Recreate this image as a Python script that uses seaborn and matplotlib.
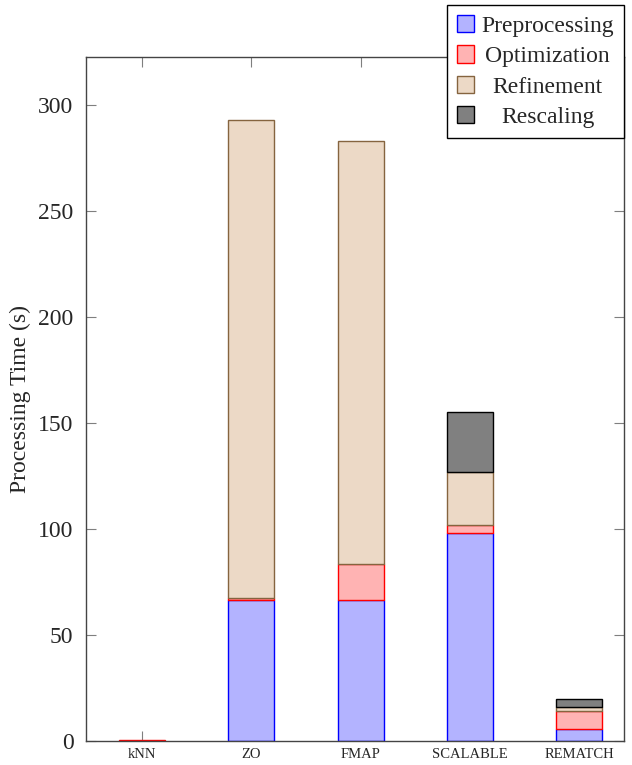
import matplotlib
matplotlib.use("Agg")
import matplotlib.pyplot as plt
import seaborn as sns
import numpy as np
import pandas as pd
from matplotlib.patches import Patch

methods = ["kNN", "ZO", "FMAP", "SCALABLE", "REMATCH"]
preprocessing = [0.2, 66.5, 66.5, 98.0, 5.6]
optimization = [0.3, 0.8, 17.0, 4.0, 8.5]
refinement = [0.0, 225.7, 199.5, 25.0, 1.9]
rescaling = [0.0, 0.0, 0.0, 28.0, 3.8]

series_names = ["Preprocessing", "Optimization", "Refinement", "Rescaling"]
fills = ["#b3b3ff", "#ffb3b3", "#ecd9c6", "#808080"]
edges = ["#0000ff", "#ff0000", "#85643f", "#000000"]

sns.set_theme(style="ticks")
plt.rcParams["font.family"] = ["Liberation Serif", "DejaVu Serif"]
plt.rcParams["mathtext.fontset"] = "stix"

df = pd.DataFrame({
    "method": methods,
    "Preprocessing": preprocessing,
    "Optimization": optimization,
    "Refinement": refinement,
    "Rescaling": rescaling,
})
bottoms = df[series_names].cumsum(axis=1) - df[series_names]

fig = plt.figure(figsize=(6.32, 7.65), dpi=100)
ax = fig.add_axes([86 / 632, 24 / 765, (624 - 86) / 632, (741 - 57) / 765])

# stacked bars: draw each segment with seaborn, then lift it onto the stack
for name, fc, ec in zip(series_names, fills, edges):
    n_before = len(ax.patches)
    sns.barplot(data=df, x="method", y=name, order=methods, color=fc,
                edgecolor=ec, linewidth=1.0, width=0.42, saturation=1,
                ax=ax, errorbar=None)
    new = ax.patches[n_before:]
    for rect, b, v in zip(new, bottoms[name].values, df[name].values):
        rect.set_y(b)
        if v <= 0:
            rect.set_visible(False)

ax.set_xlim(-0.512, 4.41)
ax.set_ylim(0, 322.6)
ax.set_yticks(np.arange(0, 301, 50))
ax.set_xlabel("")
ax.set_ylabel("Processing Time (s)", fontsize=17, labelpad=5)

ax.tick_params(axis="y", direction="in", left=True, right=True, length=7,
               width=0.8, color="#7f7f7f", labelsize=17, pad=9)
ax.tick_params(axis="x", direction="in", bottom=True, top=True, length=7,
               width=0.8, color="#7f7f7f", labelsize=10.5, pad=5)
for s in ax.spines.values():
    s.set_visible(True)
    s.set_linewidth(1.0)
    s.set_color("#444444")

handles = [Patch(facecolor=fc, edgecolor=ec, linewidth=1.0)
           for fc, ec in zip(fills, edges)]
leg = ax.legend(handles, series_names, loc="upper right",
                bbox_to_anchor=(624 / 632, 1 - 5 / 765),
                bbox_transform=fig.transFigure, fontsize=17, frameon=True,
                fancybox=False, framealpha=1, edgecolor="black",
                handlelength=0.75, handleheight=0.75, handletextpad=0.3,
                labelspacing=0.36, borderpad=0.42, borderaxespad=0)
leg.get_frame().set_linewidth(1.0)
leg.set_zorder(10)

# center legend texts within their column
fig.canvas.draw()
renderer = fig.canvas.get_renderer()
widths = [t.get_window_extent(renderer).width for t in leg.get_texts()]
maxw = max(widths)
for t, w in zip(leg.get_texts(), widths):
    t.set_position(((maxw - w) / 2, 0))

fig.savefig("out.png", dpi=100)
